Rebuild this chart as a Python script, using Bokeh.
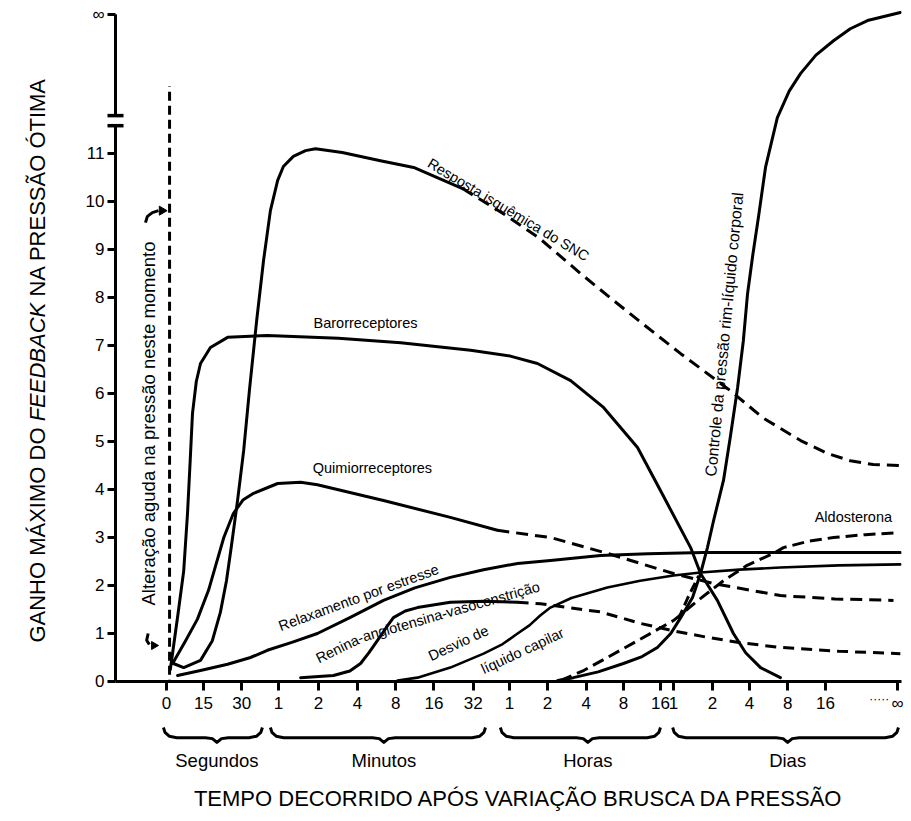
import math
from bokeh.plotting import figure
from bokeh.models import FixedTicker
from bokeh.core.properties import value
from bokeh.embed import file_html
from bokeh.resources import INLINE

FONT = "Liberation Sans"

# ---------------- axis definitions ----------------
# x axis: non-uniform time scale, tick positions in "tick units"
TICK_POS = [0.0, 0.97, 1.97, 2.93, 3.98, 5.0, 6.0, 7.0, 8.03,
            8.98, 9.97, 10.99, 11.96, 12.93,
            13.27, 14.29, 15.26, 16.26, 17.25, 19.14]
TICK_LABELS = ["0", "15", "30", "1", "2", "4", "8", "16", "32",
               "1", "2", "4", "8", "16",
               "1", "2", "4", "8", "16", "∞"]
GROUP_LABELS = ["Segundos", "Minutos", "Horas", "Dias"]
GROUP_CENTERS = [1.32, 5.69, 11.03, 16.26]
GROUP_SPANS = [(-0.08, 2.51), (2.72, 8.35), (8.74, 12.93), (13.25, 19.16)]

Y_TICKS = [0, 1, 2, 3, 4, 5, 6, 7, 8, 9, 10, 11, 13.9]
Y_TICK_LABELS = ["0", "1", "2", "3", "4", "5", "6", "7", "8", "9", "10", "11", "∞"]

# ---------------- series ----------------
# Resposta isquemica do SNC
CNS_SOLID_X = [0.18, 0.45, 0.89, 1.20, 1.41, 1.57, 1.70, 1.86, 2.02, 2.17, 2.36, 2.54,
               2.72, 2.91, 3.06, 3.32, 3.64, 3.90, 4.6, 5.6, 6.47, 7.75]
CNS_SOLID_Y = [0.375, 0.29, 0.44, 0.85, 1.44, 2.10, 2.83, 3.77, 4.81, 6.06, 7.52, 8.77,
               9.81, 10.44, 10.73, 10.94, 11.06, 11.1, 11.02, 10.85, 10.71, 10.27]
CNS_DASH_X = [7.75, 8.85, 9.74, 10.84, 11.7, 12.59, 13.46, 14.76, 15.6, 16.6, 17.3, 17.9, 18.5, 19.21]
CNS_DASH_Y = [10.27, 9.73, 9.25, 8.5, 7.94, 7.375, 6.83, 6.06, 5.5, 5.02, 4.75, 4.6, 4.52, 4.5]

# Barorreceptores
BARO_X = [0.1, 0.3, 0.45, 0.55, 0.62, 0.68, 0.78, 0.89, 1.15, 1.6, 2.64, 4.5, 6.13, 7.96,
          9.0, 9.71, 10.58, 11.44, 12.33, 12.93, 13.72, 13.98, 14.42, 14.84, 15.16, 15.55, 16.07]
BARO_Y = [0.25, 1.4, 2.3, 3.5, 4.6, 5.58, 6.25, 6.625, 6.96, 7.17, 7.21, 7.15, 7.06, 6.9,
          6.78, 6.625, 6.27, 5.71, 4.875, 3.98, 2.79, 2.25, 1.69, 1.0, 0.6, 0.29, 0.08]

# Quimiorreceptores
CHEMO_SOLID_X = [0.16, 0.5, 0.81, 1.1, 1.3, 1.5, 1.75, 2.0, 2.28, 2.91, 3.51, 3.95, 5.68, 7.43, 8.66]
CHEMO_SOLID_Y = [0.375, 0.85, 1.3, 1.9, 2.45, 3.0, 3.5, 3.78, 3.92, 4.125, 4.15, 4.1, 3.77, 3.42, 3.15]
CHEMO_DASH_X = [8.66, 10.05, 11.54, 13.27, 14.32, 16.07, 17.5, 19.03]
CHEMO_DASH_Y = [3.15, 3.0, 2.67, 2.25, 2.04, 1.79, 1.72, 1.69]

# Relaxamento por estresse
STRESS_X = [0.29, 0.89, 1.6, 2.2, 2.64, 3.3, 3.95, 4.8, 5.68, 6.5, 7.43, 8.3, 9.19, 10.05,
            11.36, 12.6, 14.06, 15.89, 19.21]
STRESS_Y = [0.125, 0.23, 0.36, 0.5, 0.65, 0.82, 1.0, 1.33, 1.69, 1.95, 2.17, 2.33, 2.46, 2.52,
            2.625, 2.66, 2.69, 2.69, 2.69]

# Renina-angiotensina-vasoconstricao
RENIN_SOLID_X = [3.51, 4.37, 4.8, 5.08, 5.3, 5.52, 5.75, 5.94, 6.25, 6.57, 7.43, 8.3, 9.19]
RENIN_SOLID_Y = [0.08, 0.125, 0.22, 0.375, 0.6, 0.85, 1.12, 1.33, 1.47, 1.54, 1.65, 1.67, 1.65]
RENIN_DASH_X = [9.19, 9.79, 10.6, 11.36, 12.41, 13.3, 14.16, 15.1, 16.07, 17.6, 19.21]
RENIN_DASH_Y = [1.65, 1.62, 1.53, 1.45, 1.21, 1.05, 0.92, 0.8, 0.71, 0.63, 0.58]

# Desvio de liquido capilar
CAP_X = [6.05, 6.57, 7.43, 8.3, 8.8, 9.19, 9.5, 9.79, 10.05, 10.6, 11.54, 12.4, 13.27, 13.98,
         15.0, 16.07, 17.6, 19.21]
CAP_Y = [0.02, 0.08, 0.29, 0.58, 0.78, 1.0, 1.17, 1.38, 1.54, 1.74, 1.96, 2.1, 2.21, 2.27,
         2.33, 2.375, 2.42, 2.44]

# Controle da pressao rim-liquido corporal
RENAL_X = [10.24, 10.65, 11.3, 11.96, 12.45, 12.85, 13.2, 13.46, 13.77, 13.98, 14.16, 14.32,
           14.58, 14.76, 14.95, 15.1, 15.21, 15.35, 15.5, 15.68, 15.99, 16.3, 16.6, 17.0,
           17.46, 17.9, 18.35, 19.21]
RENAL_Y = [0.02, 0.08, 0.2, 0.375, 0.52, 0.71, 1.0, 1.33, 1.75, 2.25, 2.79, 3.35,
           4.19, 5.1, 6.125, 7.1, 8.08, 8.9, 9.7, 10.71, 11.75, 12.3, 12.67, 13.05,
           13.35, 13.6, 13.77, 13.94]

# Aldosterona
ALDO_X = [10.31, 10.9, 11.54, 12.4, 13.27, 13.9, 14.58, 15.2, 15.89, 16.15, 16.8, 17.46, 18.3, 19.14]
ALDO_Y = [0.02, 0.22, 0.5, 0.88, 1.27, 1.68, 2.1, 2.42, 2.67, 2.79, 2.92, 3.0, 3.06, 3.1]
ALDO_BRANCH_X = [13.4, 13.65, 13.93]
ALDO_BRANCH_Y = [1.3, 1.75, 2.2]

# Alteracao aguda (vertical dashed line)
ACUTE_X = [0.08, 0.08]
ACUTE_Y = [-0.15, 12.4]

# ---------------- figure ----------------
X_START, X_END = -1.335, 19.24
Y_END = 13.98

p = figure(width=905, height=815, x_range=(X_START, X_END), y_range=(0, Y_END),
           output_backend="svg", toolbar_location=None,
           min_border_left=115, min_border_right=4, min_border_top=10, min_border_bottom=134)
p.grid.visible = False
p.outline_line_color = None
p.background_fill_color = "white"
p.border_fill_color = "white"

xa = p.xaxis[0]
xa.ticker = FixedTicker(ticks=TICK_POS)
xa.major_label_overrides = {t: l for t, l in zip(TICK_POS, TICK_LABELS)}
xa.minor_tick_line_color = None
xa.major_tick_in = 0
xa.major_tick_out = 9
xa.major_tick_line_width = 3
xa.axis_line_width = 3
xa.major_label_text_font = FONT
xa.major_label_text_font_size = "17px"
xa.major_label_text_color = "black"
xa.major_label_standoff = 3

ya = p.yaxis[0]
ya.ticker = FixedTicker(ticks=Y_TICKS)
ya.major_label_overrides = {t: l for t, l in zip(Y_TICKS, Y_TICK_LABELS)}
ya.minor_tick_line_color = None
ya.major_tick_in = 0
ya.major_tick_out = 8
ya.major_tick_line_width = 3
ya.axis_line_color = None
ya.major_label_text_font = FONT
ya.major_label_text_font_size = "17px"
ya.major_label_text_color = "black"
ya.major_label_standoff = 3

# y axis line with break
p.line([X_START, X_START], [0, 11.58], line_color="black", line_width=3, level="overlay")
p.line([X_START, X_START], [11.79, 13.9], line_color="black", line_width=3, level="overlay")
for yb in (11.58, 11.79):
    p.line([X_START - 0.21, X_START + 0.21], [yb, yb], line_color="black", line_width=3.5,
           level="overlay")


def solid(xs, ys, w=3):
    p.line(xs, ys, line_color="black", line_width=w, line_join="round", line_cap="round")


def dashed(xs, ys, dash="12 7", w=3):
    p.line(xs, ys, line_color="black", line_width=w, line_dash=dash, line_join="round")


dashed(ACUTE_X, ACUTE_Y, dash="9 5", w=3)
solid(CNS_SOLID_X, CNS_SOLID_Y)
dashed(CNS_DASH_X, CNS_DASH_Y)
solid(BARO_X, BARO_Y)
solid(CHEMO_SOLID_X, CHEMO_SOLID_Y)
dashed(CHEMO_DASH_X, CHEMO_DASH_Y)
solid(STRESS_X, STRESS_Y)
solid(RENIN_SOLID_X, RENIN_SOLID_Y)
dashed(RENIN_DASH_X, RENIN_DASH_Y, dash="11 7")
solid(CAP_X, CAP_Y, w=2.6)
solid(RENAL_X, RENAL_Y)
dashed(ALDO_X, ALDO_Y, dash="12 6")
dashed(ALDO_BRANCH_X, ALDO_BRANCH_Y, dash="10 5")

# little arrows beside the acute-change line
p.line([-0.55, -0.50, -0.37, -0.21], [9.56, 9.69, 9.77, 9.81], line_color="black", line_width=3)
p.scatter([-0.12], [9.81], marker="triangle", size=9, angle=-math.pi / 2, color="black")
p.line([-0.48, -0.52, -0.45], [1.0, 0.86, 0.77], line_color="black", line_width=3)
p.scatter([-0.33], [0.75], marker="triangle", size=8, angle=-math.pi / 2, color="black")


def label(x, y, txt, angle_deg=0.0, size="14.5px", align="center", style="normal"):
    p.text(x=[x], y=[y], text=[txt], angle=math.radians(angle_deg),
           text_font=value(FONT), text_font_size=value(size), text_font_style=style,
           text_align=align, text_baseline="middle", text_color="black", level="overlay")


# curve labels
label(5.21, 7.46, "Barorreceptores")
label(5.39, 4.44, "Quimiorreceptores")
label(8.95, 9.83, "Resposta isquêmica do SNC", angle_deg=-31)
label(5.03, 1.75, "Relaxamento por estresse", angle_deg=20)
label(4.53, 0.7, "Renina-", angle_deg=26)
label(7.45, 1.46, "angiotensina-vasoconstrição", angle_deg=16)
label(7.64, 0.8, "Desvio de", angle_deg=25)
label(9.32, 0.64, "líquido capilar", angle_deg=25)
label(14.6, 7.23, "Controle da pressão rim-líquido corporal", angle_deg=84.5, size="16px")
label(17.98, 3.42, "Aldosterona")
label(-0.47, 5.375, "Alteração aguda na pressão neste momento", angle_deg=90, size="18.5px")

# dots before infinity on x axis
label(18.66, -0.36, "·····", size="12px")

# group braces and labels
for (xl, xr), xc, name in zip(GROUP_SPANS, GROUP_CENTERS, GROUP_LABELS):
    bx = [xl, xl + 0.04, xl + 0.15, xl + 0.35, xc - 0.3, xc - 0.12, xc,
          xc + 0.12, xc + 0.3, xr - 0.35, xr - 0.15, xr - 0.04, xr]
    by = [-0.96, -1.06, -1.14, -1.17, -1.17, -1.19, -1.27,
          -1.19, -1.17, -1.17, -1.14, -1.06, -0.96]
    p.line(bx, by, line_color="black", line_width=3, line_join="round", level="overlay")
    label(xc, -1.65, name, size="18.5px")

# axis titles
label(9.24, -2.44, "TEMPO DECORRIDO APÓS VARIAÇÃO BRUSCA DA PRESSÃO", size="22px")
label(-3.38, 0.81, "GANHO MÁXIMO DO", angle_deg=90, size="22px", align="left")
label(-3.38, 5.42, "FEEDBACK", angle_deg=90, size="22px", align="left", style="italic")
label(-3.38, 8.02, "NA PRESSÃO ÓTIMA", angle_deg=90, size="22px", align="left")

open("out.html", "w").write(file_html(p, INLINE))
